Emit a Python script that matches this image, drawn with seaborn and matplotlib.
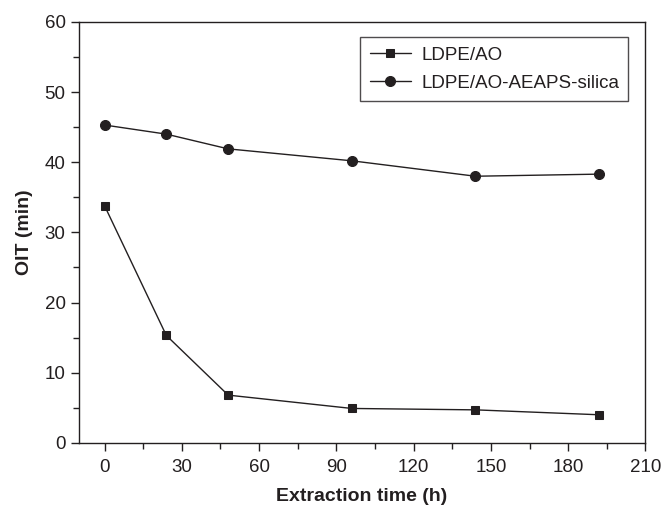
import pandas as pd
import matplotlib.pyplot as plt
import seaborn as sns
from matplotlib.ticker import MultipleLocator

# Data
time_h = [0, 24, 48, 96, 144, 192]
oit_ldpe_ao = [33.8, 15.3, 6.8, 4.9, 4.7, 4.0]
oit_ldpe_ao_silica = [45.3, 44.0, 41.9, 40.2, 38.0, 38.3]
labels = ['LDPE/AO', 'LDPE/AO-AEAPS-silica']

df = pd.DataFrame({
    'time': time_h * 2,
    'oit': oit_ldpe_ao + oit_ldpe_ao_silica,
    'sample': [labels[0]] * len(time_h) + [labels[1]] * len(time_h),
})

sns.set_style('ticks')
plt.rcParams['font.family'] = ['Liberation Sans', 'DejaVu Sans']
plt.rcParams['font.size'] = 13

ink = '#231f20'
fig = plt.figure(figsize=(6.62, 5.09), dpi=100)
ax = fig.add_axes([0.119, 0.130, 0.856, 0.827])

sns.lineplot(data=df, x='time', y='oit', hue='sample', style='sample',
             markers={labels[0]: 's', labels[1]: 'o'}, dashes=False,
             palette={labels[0]: ink, labels[1]: ink},
             linewidth=1.0, markersize=7, markeredgecolor=ink, ax=ax)
ax.lines[0].set_markersize(6)
ax.lines[1].set_markersize(7.2)

ax.set_xlim(-10, 210)
ax.set_ylim(0, 60)
ax.xaxis.set_major_locator(MultipleLocator(30))
ax.xaxis.set_minor_locator(MultipleLocator(15))
ax.yaxis.set_major_locator(MultipleLocator(10))
ax.yaxis.set_minor_locator(MultipleLocator(5))
ax.tick_params(which='major', length=6, width=1, color=ink, labelsize=13.5, labelcolor=ink)
ax.tick_params(axis='x', which='major', pad=6)
ax.tick_params(which='minor', length=4, width=1, color=ink)
for sp in ax.spines.values():
    sp.set_visible(True)
    sp.set_color(ink)
    sp.set_linewidth(1)

ax.set_xlabel('Extraction time (h)', fontsize=14, fontweight='bold', color=ink, labelpad=8)
ax.set_ylabel('OIT (min)', fontsize=14, fontweight='bold', color=ink, labelpad=8)

leg = ax.legend(loc='upper right', bbox_to_anchor=(0.970, 0.964), fontsize=13.5,
                fancybox=False, frameon=True, handlelength=2.2, handletextpad=0.55,
                borderpad=0.5, labelspacing=0.6, borderaxespad=0)
leg.get_frame().set_edgecolor(ink)
leg.get_frame().set_linewidth(1)
leg.get_lines()[0].set_markersize(6)
leg.get_lines()[1].set_markersize(7.2)
for t in leg.get_texts():
    t.set_color(ink)

plt.savefig('out.png', dpi=100)
